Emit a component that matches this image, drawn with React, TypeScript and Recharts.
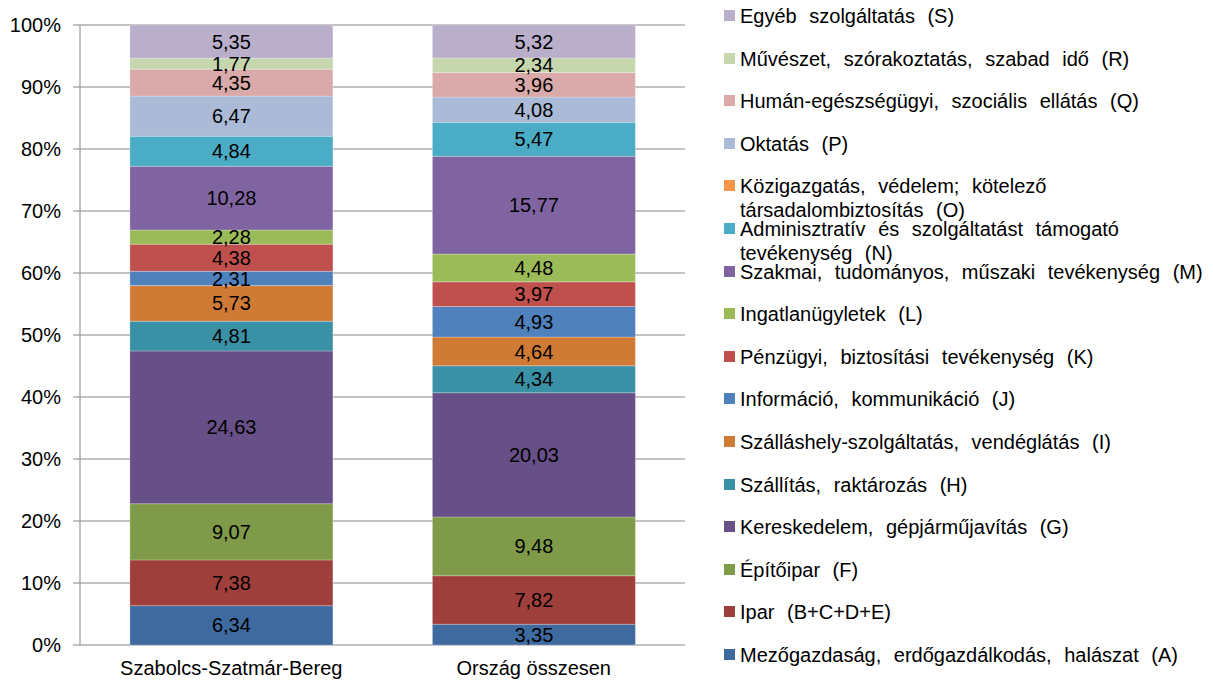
import React from "react";
import { Bar, BarChart, CartesianGrid, LabelList, XAxis, YAxis } from "recharts";

const FONT = "'Liberation Sans', Arial, sans-serif";

const regions = ["Szabolcs-Szatmár-Bereg", "Ország összesen"];

// bottom -> top stacking order
const sectors = [
  { key: "A", name: "Mezőgazdaság, erdőgazdálkodás, halászat (A)", color: "#3F6A9F" },
  { key: "BCDE", name: "Ipar (B+C+D+E)", color: "#9F3F3C" },
  { key: "F", name: "Építőipar (F)", color: "#7F9A48" },
  { key: "G", name: "Kereskedelem, gépjárműjavítás (G)", color: "#674F87" },
  { key: "H", name: "Szállítás, raktározás (H)", color: "#3A90A4" },
  { key: "I", name: "Szálláshely-szolgáltatás, vendéglátás (I)", color: "#D07B35" },
  { key: "J", name: "Információ, kommunikáció (J)", color: "#4F81BD" },
  { key: "K", name: "Pénzügyi, biztosítási tevékenység (K)", color: "#C0504D" },
  { key: "L", name: "Ingatlanügyletek (L)", color: "#9BBB59" },
  { key: "M", name: "Szakmai, tudományos, műszaki tevékenység (M)", color: "#8064A2" },
  { key: "N", name: "Adminisztratív és szolgáltatást támogató\ntevékenység (N)", color: "#4BACC6" },
  { key: "O", name: "Közigazgatás, védelem; kötelező\ntársadalombiztosítás (O)", color: "#F79646" },
  { key: "P", name: "Oktatás (P)", color: "#AABAD7" },
  { key: "Q", name: "Humán-egészségügyi, szociális ellátás (Q)", color: "#D9AAA9" },
  { key: "R", name: "Művészet, szórakoztatás, szabad idő (R)", color: "#C6D7AE" },
  { key: "S", name: "Egyéb szolgáltatás (S)", color: "#B9AFCB" },
];

const szabolcs = [6.34, 7.38, 9.07, 24.63, 4.81, 5.73, 2.31, 4.38, 2.28, 10.28, 4.84, 0, 6.47, 4.35, 1.77, 5.35];
const orszag = [3.35, 7.82, 9.48, 20.03, 4.34, 4.64, 4.93, 3.97, 4.48, 15.77, 5.47, 0, 4.08, 3.96, 2.34, 5.32];

const yTicks = [0, 0.1, 0.2, 0.3, 0.4, 0.5, 0.6, 0.7, 0.8, 0.9, 1];

const data = regions.map((region, r) => {
  const row: Record<string, string | number> = { region };
  const vals = r === 0 ? szabolcs : orszag;
  sectors.forEach((s, i) => {
    row[s.key] = vals[i];
  });
  return row;
});

const fmt = (v: any) => (v ? Number(v).toFixed(2).replace(".", ",") : "");

function LegendBox() {
  const items = [...sectors].reverse();
  return (
    <div style={{ position: "absolute", left: 724, top: 0, fontFamily: FONT, fontSize: 20, color: "#000" }}>
      {items.map((s, i) => (
        <div
          key={s.key}
          style={{ position: "absolute", left: 0, top: 4 + i * 42.6, whiteSpace: "pre", width: 490 }}
        >
          <span
            style={{
              position: "absolute",
              left: 0,
              top: 6,
              width: 11,
              height: 11,
              background: s.color,
            }}
          />
          <div style={{ marginLeft: 16, lineHeight: "24px", wordSpacing: 7 }}>{s.name}</div>
        </div>
      ))}
    </div>
  );
}

export default function App() {
  return (
    <div style={{ position: "absolute", left: 0, top: 0, width: 1213, height: 682, background: "#fff" }}>
      <BarChart
        width={1213}
        height={682}
        data={data}
        stackOffset="expand"
        barCategoryGap="16.5%"
        margin={{ top: 25, right: 528, bottom: 7, left: 10 }}
      >
        <CartesianGrid vertical={false} stroke="#868686" />
        <XAxis
          dataKey="region"
          height={30}
          axisLine={false}
          tickLine={false}
          tickMargin={10}
          tick={{ fontSize: 20, fill: "#000", fontFamily: FONT }}
        />
        <YAxis
          width={70}
          domain={[0, 1]}
          ticks={yTicks}
          tickFormatter={(v) => Math.round(v * 100) + "%"}
          stroke="#868686"
          tickSize={7}
          tickMargin={12}
          tick={{ fontSize: 20, fill: "#000", fontFamily: FONT }}
        />
        {sectors.map((s) => (
          <Bar
            key={s.key}
            dataKey={s.key}
            stackId="a"
            fill={s.color}
            stroke="#ffffff"
            strokeOpacity={0.5}
            strokeWidth={0.5}
            isAnimationActive={false}
          >
            <LabelList
              dataKey={s.key}
              position="center"
              formatter={fmt}
              style={{ fontSize: 20, fill: "#000", fontFamily: FONT }}
            />
          </Bar>
        ))}
      </BarChart>
      <LegendBox />
    </div>
  );
}
